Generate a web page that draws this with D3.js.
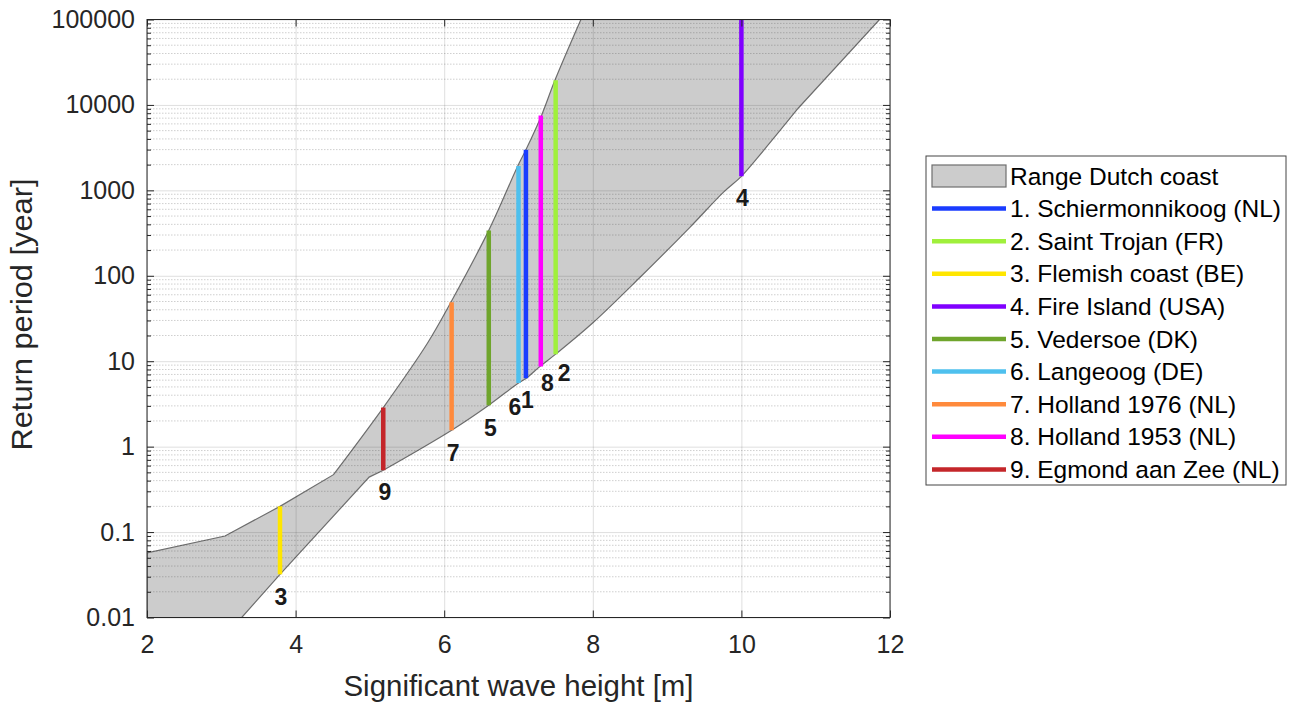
<!DOCTYPE html>
<html>
<head>
<meta charset="utf-8">
<script src="https://cdn.jsdelivr.net/npm/d3@7"></script>
<style>
  body { margin: 0; background: #fff; }
  svg { display: block; font-family: "Liberation Sans", Arial, sans-serif; }
</style>
</head>
<body>
<div id="chart"></div>
<script>
/* ===== Data ===== */

// upper (left) edge of the Dutch coast range: wave height [m] / return period [yr]
const upperH = [2.0, 3.05, 3.79, 4.51, 5.18, 5.77, 6.09, 6.60, 6.99, 7.10, 7.31, 7.49, 7.84];
const upperT = [0.057, 0.09, 0.2, 0.47, 2.87, 16, 49, 340, 1925, 2990, 7540, 19400, 100000];

// lower (right) edge of the range
const lowerH = [3.275, 3.79, 4.99, 5.18, 6.10, 6.60, 7.00, 7.10, 7.29, 7.50, 7.99, 8.64, 9.31, 9.76, 10.0, 10.30, 10.77, 11.86];
const lowerT = [0.01, 0.032, 0.44, 0.53, 1.56, 3.06, 5.57, 6.28, 8.7, 12.1, 27.6, 96.8, 372, 955, 1460, 2940, 9270, 100000];

// sites
const siteNames = [
  '1. Schiermonnikoog (NL)', '2. Saint Trojan (FR)', '3. Flemish coast (BE)',
  '4. Fire Island (USA)', '5. Vedersoe (DK)', '6. Langeoog (DE)',
  '7. Holland 1976 (NL)', '8. Holland 1953 (NL)', '9. Egmond aan Zee (NL)'
];
const siteNums = ['1', '2', '3', '4', '5', '6', '7', '8', '9'];
const siteH = [7.10, 7.50, 3.79, 10.0, 6.60, 7.00, 6.10, 7.30, 5.18];
const siteTLow = [6.3, 12.1, 0.032, 1460, 3.06, 5.57, 1.56, 8.7, 0.53];
const siteTHigh = [2990, 19400, 0.2, 100000, 340, 1925, 49, 7540, 2.87];
const siteColors = ['#1a3cff', '#a0f03c', '#ffe600', '#8000ff', '#6fa52c', '#4ec0ee', '#ff8a3c', '#ff00ff', '#c4262a'];
// label offset from the bottom of each bar (px)
const labelDx = [1.5, 8.5, 1, 1, 1.5, -3.5, 1.5, 6.5, 1.5];
const labelDy = [22, 19, 23, 22, 22.5, 24, 22.5, 17, 22];

// axes
const xTickValues = [2, 4, 6, 8, 10, 12];
const yTickValues = [0.01, 0.1, 1, 10, 100, 1000, 10000, 100000];
const yTickLabels = ['0.01', '0.1', '1', '10', '100', '1000', '10000', '100000'];

/* ===== Chart ===== */

const width = 1298;
const height = 702;
const margin = { top: 19.5, right: 408, bottom: 84.5, left: 147 };
const innerW = width - margin.left - margin.right;
const innerH = height - margin.top - margin.bottom;
const axisColor = '#262626';

const svg = d3.select('#chart').append('svg')
  .attr('width', width)
  .attr('height', height)
  .attr('viewBox', `0 0 ${width} ${height}`);

const g = svg.append('g')
  .attr('transform', `translate(${margin.left},${margin.top})`);

const x = d3.scaleLinear().domain([2, 12]).range([0, innerW]);
const y = d3.scaleLog().domain([0.01, 100000]).range([innerH, 0]);

svg.append('defs').append('clipPath').attr('id', 'plot-clip')
  .append('rect').attr('width', innerW).attr('height', innerH);

// Range polygon: straight pieces where the outline has corners, smooth elsewhere
const upperPts = upperH.map((h, i) => [h, upperT[i]]);
const lowerPts = lowerH.map((h, i) => [h, lowerT[i]]);

const straight = d3.line().x(d => x(d[0])).y(d => y(d[1]));
const smooth = d3.line().x(d => x(d[0])).y(d => y(d[1])).curve(d3.curveCatmullRom.alpha(0.5));
const cont = s => 'L' + s.slice(1);

const ki = upperH.indexOf(4.51);
const kl = lowerH.indexOf(5.18);
const kr = lowerH.indexOf(10.77);

const rangePath =
  straight(upperPts.slice(0, ki + 1)) +
  cont(smooth(upperPts.slice(ki))) +
  cont(straight(lowerPts.slice(kr).reverse())) +
  cont(smooth(lowerPts.slice(kl, kr + 1).reverse())) +
  cont(straight([...lowerPts.slice(0, kl + 1).reverse(), [2, 0.01]])) + 'Z';

g.append('path')
  .attr('clip-path', 'url(#plot-clip)')
  .attr('d', rangePath)
  .attr('fill', '#cccccc')
  .attr('stroke', '#6e6e6e')
  .attr('stroke-width', 1.2);

// Minor grid (dotted)
const minorVals = [];
for (let e = -2; e < 5; e++) {
  for (let k = 2; k <= 9; k++) minorVals.push(k * Math.pow(10, e));
}
g.append('g')
  .selectAll('line')
  .data(minorVals)
  .join('line')
  .attr('x1', 0).attr('x2', innerW)
  .attr('y1', d => y(d)).attr('y2', d => y(d))
  .attr('stroke', 'rgba(38,38,38,0.22)')
  .attr('stroke-dasharray', '1.5,1.5')
  .attr('stroke-width', 1);

// Major grid
g.append('g')
  .call(d3.axisLeft(y).tickValues(yTickValues).tickSize(-innerW).tickFormat(''))
  .call(s => s.select('.domain').remove())
  .selectAll('line').attr('stroke', 'rgba(38,38,38,0.15)');

g.append('g')
  .attr('transform', `translate(0,${innerH})`)
  .call(d3.axisBottom(x).tickValues(xTickValues).tickSize(-innerH).tickFormat(''))
  .call(s => s.select('.domain').remove())
  .selectAll('line').attr('stroke', 'rgba(38,38,38,0.15)');

// Site bars
g.append('g')
  .selectAll('line')
  .data(siteH)
  .join('line')
  .attr('x1', d => x(d)).attr('x2', d => x(d))
  .attr('y1', (d, i) => y(siteTLow[i]))
  .attr('y2', (d, i) => y(siteTHigh[i]))
  .attr('stroke', (d, i) => siteColors[i])
  .attr('stroke-width', 4.5);

// Site number labels
g.append('g')
  .selectAll('text')
  .data(siteH)
  .join('text')
  .attr('x', (d, i) => x(d) + labelDx[i])
  .attr('y', (d, i) => y(siteTLow[i]) + labelDy[i])
  .attr('text-anchor', 'middle')
  .attr('dominant-baseline', 'central')
  .style('font-size', '23px')
  .style('font-weight', 'bold')
  .style('fill', '#1a1a1a')
  .text((d, i) => siteNums[i]);

// Axes: ticks inward, box on
function styleAxis(s) {
  s.select('.domain').remove();
  s.selectAll('line').attr('stroke', axisColor);
  s.selectAll('text').style('fill', axisColor).style('font-size', '25px');
}

g.append('g')
  .attr('transform', `translate(0,${innerH})`)
  .call(d3.axisBottom(x).tickValues(xTickValues).tickSize(-7).tickPadding(18))
  .call(styleAxis);
g.append('g')
  .call(d3.axisTop(x).tickValues(xTickValues).tickSize(-7).tickFormat(''))
  .call(styleAxis);

g.append('g')
  .call(d3.axisLeft(y).tickValues(yTickValues).tickSize(-7).tickPadding(12)
    .tickFormat((d, i) => yTickLabels[i]))
  .call(styleAxis);
g.append('g')
  .attr('transform', `translate(${innerW},0)`)
  .call(d3.axisRight(y).tickValues(yTickValues).tickSize(-7).tickFormat(''))
  .call(styleAxis);

// minor ticks on both sides
g.append('g')
  .call(d3.axisLeft(y).tickValues(minorVals).tickSize(-4).tickFormat(''))
  .call(styleAxis);
g.append('g')
  .attr('transform', `translate(${innerW},0)`)
  .call(d3.axisRight(y).tickValues(minorVals).tickSize(-4).tickFormat(''))
  .call(styleAxis);

g.append('rect')
  .attr('width', innerW).attr('height', innerH)
  .attr('fill', 'none')
  .attr('stroke', axisColor)
  .attr('stroke-width', 1);

// Axis titles
g.append('text')
  .attr('x', innerW / 2)
  .attr('y', innerH + 78)
  .attr('text-anchor', 'middle')
  .attr('textLength', 350)
  .attr('lengthAdjust', 'spacingAndGlyphs')
  .style('font-size', '29px')
  .style('fill', axisColor)
  .text('Significant wave height [m]');

g.append('text')
  .attr('transform', 'rotate(-90)')
  .attr('x', -innerH / 2 + 4)
  .attr('y', -115)
  .attr('text-anchor', 'middle')
  .attr('textLength', 272)
  .attr('lengthAdjust', 'spacingAndGlyphs')
  .style('font-size', '29px')
  .style('fill', axisColor)
  .text('Return period [year]');

// Legend
const legend = svg.append('g').attr('transform', 'translate(926,156)');
const rowH = 32.6;
const row0 = 20;

legend.append('rect')
  .attr('width', 360).attr('height', 329)
  .attr('fill', '#fff')
  .attr('stroke', '#444')
  .attr('stroke-width', 1);

legend.append('rect')
  .attr('x', 6).attr('y', row0 - 11)
  .attr('width', 74).attr('height', 22)
  .attr('fill', '#cccccc')
  .attr('stroke', '#6e6e6e')
  .attr('stroke-width', 1.2);

legend.append('text')
  .attr('x', 84).attr('y', row0)
  .attr('dominant-baseline', 'central')
  .style('font-size', '24.5px')
  .style('fill', '#000')
  .text('Range Dutch coast');

const rows = legend.selectAll('.leg-row')
  .data(siteNames)
  .join('g')
  .attr('class', 'leg-row')
  .attr('transform', (d, i) => `translate(0,${row0 + rowH * (i + 1)})`);

rows.append('line')
  .attr('x1', 6).attr('x2', 80)
  .attr('stroke', (d, i) => siteColors[i])
  .attr('stroke-width', 4.5);

rows.append('text')
  .attr('x', 84)
  .attr('dominant-baseline', 'central')
  .style('font-size', '24.5px')
  .style('fill', '#000')
  .text(d => d);
</script>
</body>
</html>
